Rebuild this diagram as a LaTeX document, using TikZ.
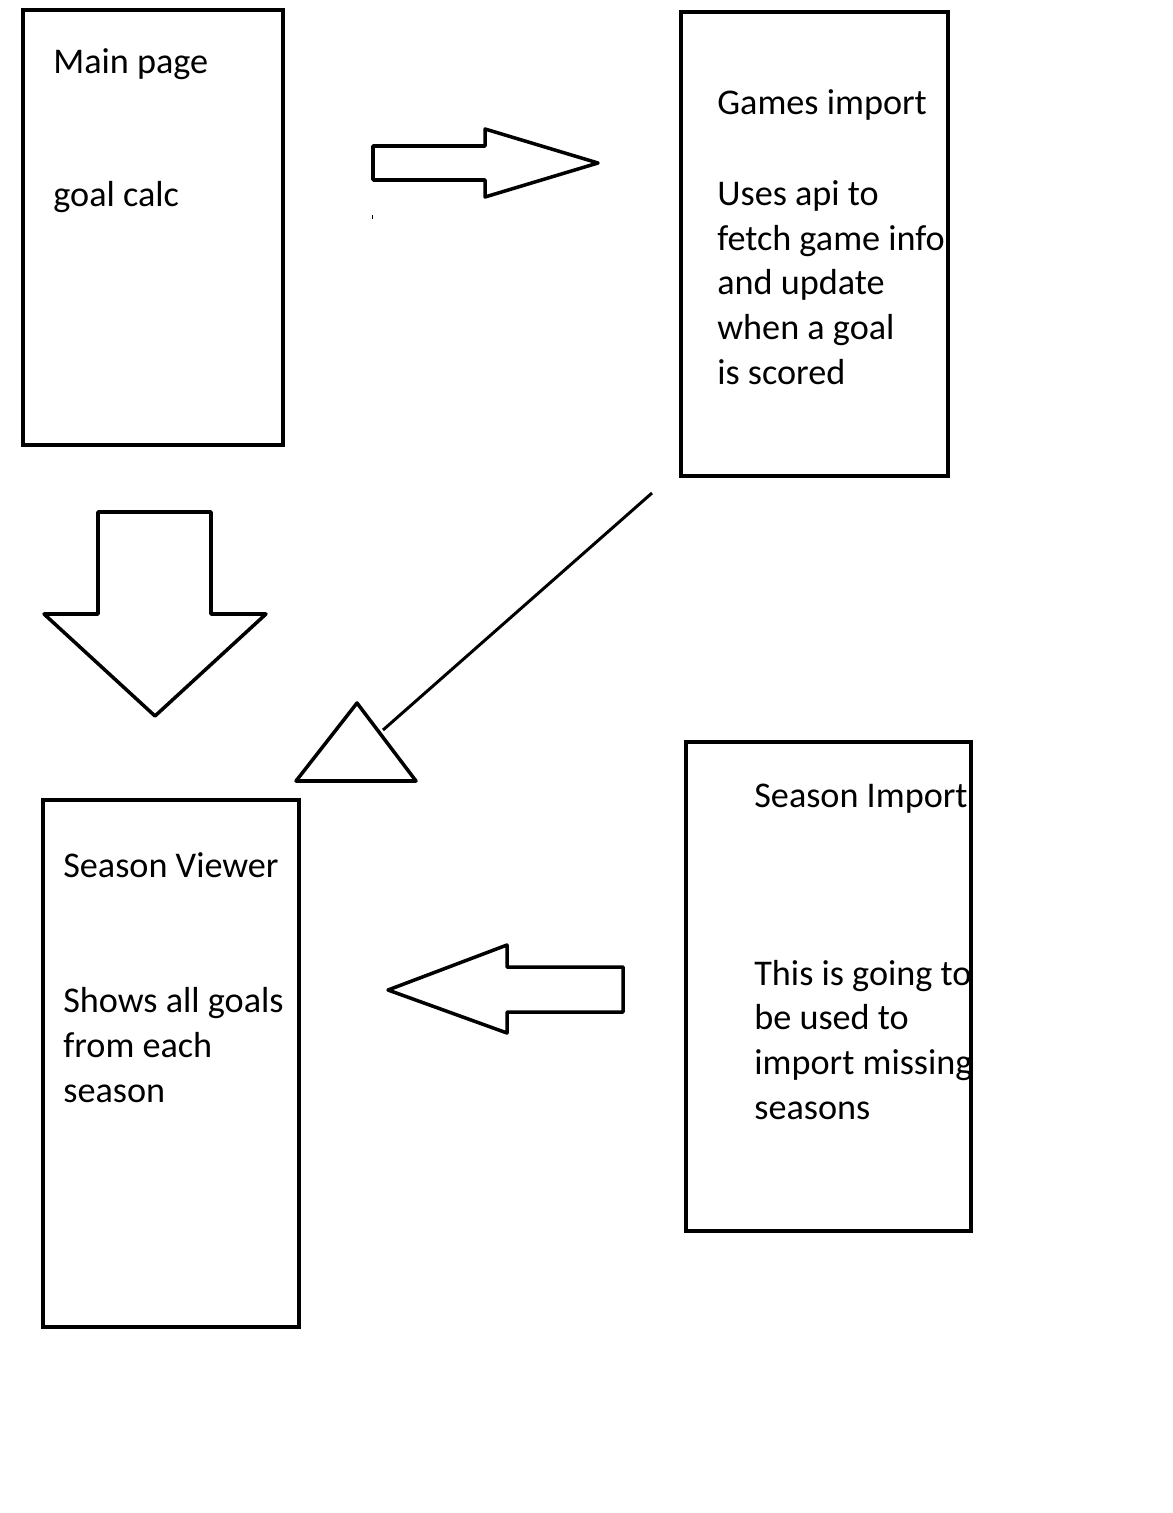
\documentclass[tikz,border=0pt]{standalone}
\usepackage{fontspec}
\setmainfont{Carlito}
\tikzset{
  screenbox/.style={draw,line width=2pt,anchor=north west,inner sep=0pt,outer sep=0pt},
  pagetext/.style={anchor=base west,align=left,inner sep=0pt,font=\fontsize{20.6}{25.4}\selectfont},
  blockarrow/.style={line width=2pt,line join=round}
}
\begin{document}
\begin{tikzpicture}[x=0.02cm,y=-0.02cm]
  \useasboundingbox (0,0) rectangle (1172,1513);

  % the four pages
  \node[screenbox,minimum width=5.2cm,minimum height=8.7cm] (mainpage) at (23,10) {};
  \node[screenbox,minimum width=5.34cm,minimum height=9.28cm] (games) at (681,12) {};
  \node[screenbox,minimum width=5.12cm,minimum height=10.54cm] (viewer) at (43,800) {};
  \node[screenbox,minimum width=5.7cm,minimum height=9.78cm] (seasonimp) at (686,742) {};

  % texts (a node with several lines sits on its last line)
  \node[pagetext] (maintitle) at (53,74) {Main page};
  \node[pagetext] (maintext) at (53,207) {goal calc};
  \begin{scope}
    \clip (games.north west) rectangle (games.south east);
    \node[pagetext] (gamestitle) at (717,115) {Games import};
    \node[pagetext] (gamestext) at (717,384) {Uses api to\\fetch game info\\and update\\when a goal\\is scored};
  \end{scope}
  \node[pagetext] (viewertitle) at (63,877) {Season Viewer};
  \node[pagetext] (viewertext) at (63,1102) {Shows all goals\\from each\\season};
  \begin{scope}
    \clip (seasonimp.north west) rectangle (seasonimp.south east);
    \node[pagetext] (imptitle) at (754,807) {Season Import};
    \node[pagetext] (imptext) at (754,1119) {This is going to\\be used to\\import missing\\seasons};
  \end{scope}

  % block arrows
  \draw[blockarrow] (373,146) -- (485,146) -- (485,129) -- (598,163) -- (485,197) -- (485,180) -- (373,180) -- cycle;
  \fill (371.5,215.5) rectangle (372.8,219);
  \draw[blockarrow] (98,512) -- (211,512) -- (211,614) -- (266,614) -- (155,716) -- (44,614) -- (98,614) -- cycle;
  \draw[blockarrow] (623,967) -- (507,967) -- (507,945) -- (388,990) -- (507,1033) -- (507,1012) -- (623,1012) -- cycle;

  % games import to season viewer
  \coordinate (linestart) at (652,493);
  \coordinate (lineend) at (383,730);
  \draw[line width=1.7pt] (linestart) -- (lineend);
  \draw[blockarrow] (296,781) -- (416,781) -- (357,703) -- cycle;
\end{tikzpicture}
\end{document}
